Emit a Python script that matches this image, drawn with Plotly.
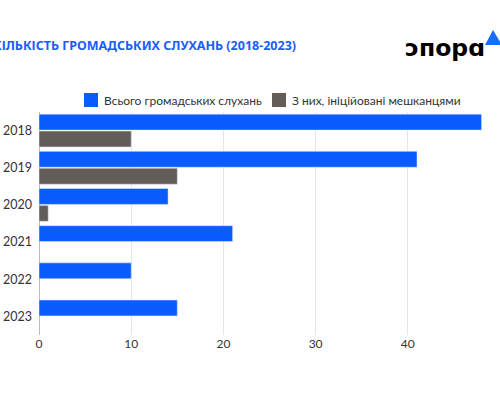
import plotly.graph_objects as go

# дані з графіка
roky = ["2018", "2019", "2020", "2021", "2022", "2023"]
vsogo = [48, 41, 14, 21, 10, 15]
initsiovani = [10, 15, 1, None, None, None]

nazva_vsogo = "Всього громадських слухань"
nazva_init = "З них, ініційовані мешканцями"

SYNIY = "#0a5cff"
SIRYI = "#625d59"

W, H = 500, 400
L, R, T, B = 39, 0, 112, 65


def px(x):
    # пікселі -> координати paper
    return (x - L) / (W - L - R)


def py(y):
    return (H - B - y) / (H - T - B)


fig = go.Figure()

fig.add_trace(go.Bar(
    y=roky, x=vsogo, name=nazva_vsogo, orientation="h",
    marker=dict(color=SYNIY)
))
fig.add_trace(go.Bar(
    y=roky, x=initsiovani, name=nazva_init, orientation="h",
    marker=dict(color=SIRYI)
))

fig.update_layout(
    width=W, height=H,
    margin=dict(l=L, r=R, t=T, b=B),
    paper_bgcolor="white", plot_bgcolor="white",
    font=dict(family="Lato", size=12, color="#333333"),
    barmode="group", bargap=0.09, bargroupgap=0.06,
    showlegend=False,
    xaxis=dict(range=[0, 50], dtick=10, showgrid=True, gridcolor="#e6e6e6",
               zeroline=True, zerolinecolor="#bbbbbb", zerolinewidth=1,
               ticks="", tickfont=dict(size=12, color="#333333"), automargin=False),
    yaxis=dict(autorange="reversed", showgrid=False, ticks="",
               tickfont=dict(size=12.5, color="#333333"), automargin=False,
               ticklabelstandoff=6),
)

# легенда вручну
for x0, kolir, tekst in [(84, SYNIY, nazva_vsogo), (272, SIRYI, nazva_init)]:
    fig.add_shape(type="rect", xref="paper", yref="paper",
                  x0=px(x0), x1=px(x0 + 14), y0=py(107), y1=py(93),
                  fillcolor=kolir, line=dict(width=0))
    fig.add_annotation(text=tekst, xref="paper", yref="paper",
                       x=px(x0 + 18), y=py(100), xanchor="left", yanchor="middle",
                       showarrow=False, font=dict(size=12, color="#333333"))

# заголовок (обрізаний зліва, як на картинці)
fig.add_annotation(
    text="<b>КІЛЬКІСТЬ ГРОМАДСЬКИХ СЛУХАНЬ (2018-2023)</b>",
    xref="paper", yref="paper", x=px(298), y=py(45), xanchor="right", yanchor="middle",
    showarrow=False, font=dict(family="Noto Sans", size=12.5, color="#1a5cff")
)

# логотип
fig.add_annotation(
    text="<b>ɔпорɑ</b>",
    xref="paper", yref="paper", x=px(487), y=py(48), xanchor="right", yanchor="middle",
    showarrow=False, font=dict(family="DejaVu Sans", size=23.5, color="black")
)
fig.add_shape(
    type="path", xref="paper", yref="paper",
    path=f"M {px(485)} {py(45)} L {px(502)} {py(45)} L {px(493)} {py(30)} Z",
    fillcolor="#1a6cff", line=dict(width=0)
)

fig.write_html("out.html", config={"displayModeBar": False},
               post_script="document.body.style.margin='0px';")
